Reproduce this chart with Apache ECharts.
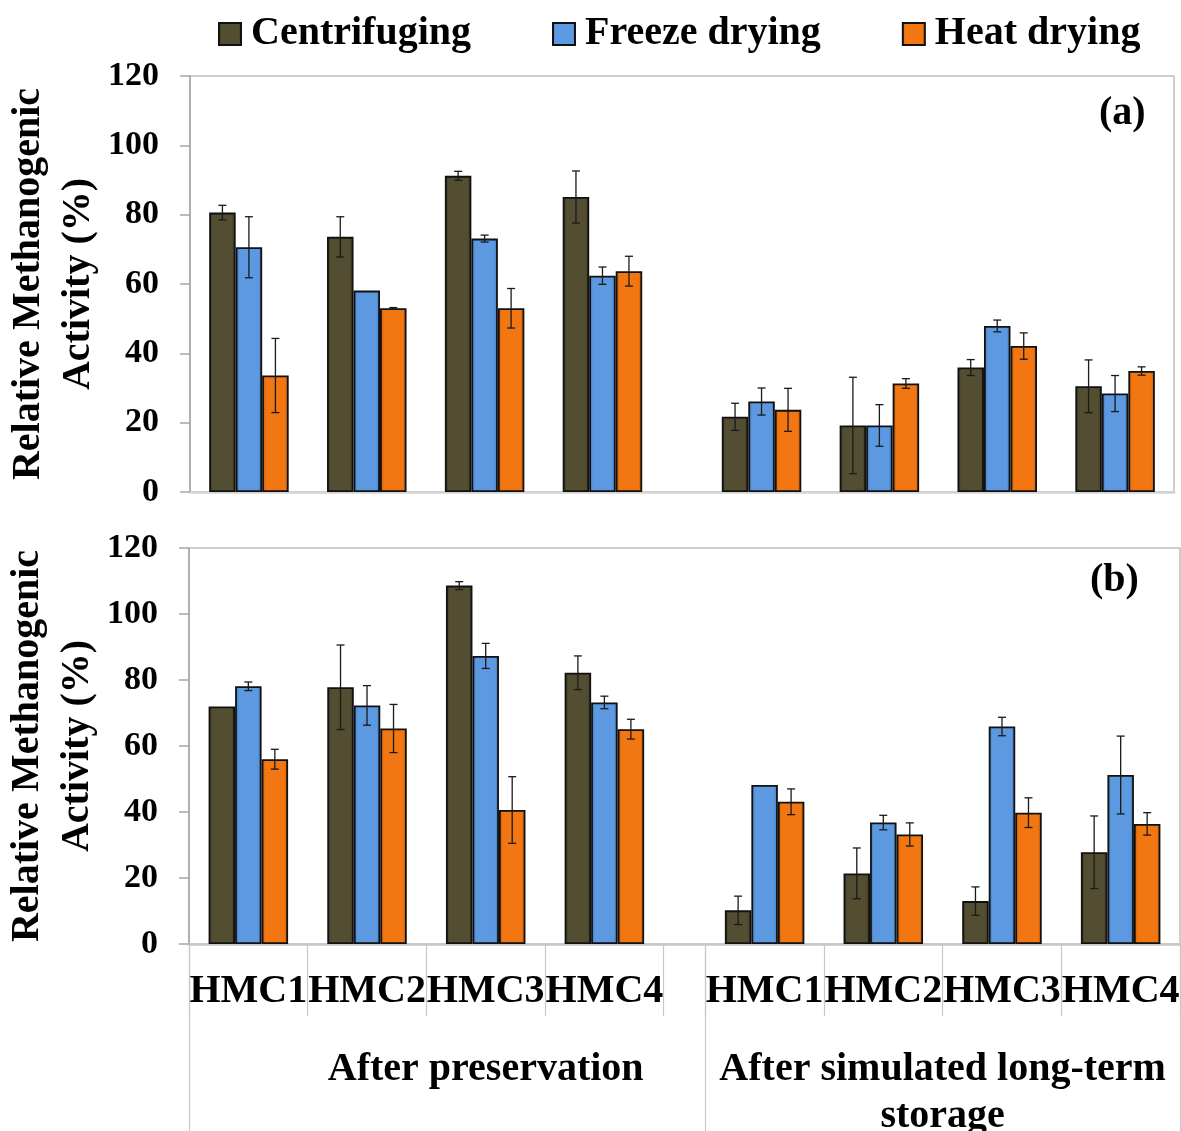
<!DOCTYPE html>
<html>
<head>
<meta charset="utf-8">
<script src="https://cdn.jsdelivr.net/npm/echarts@6/dist/echarts.min.js"></script>
<style>html,body{margin:0;padding:0;background:#fff}#c{width:1181px;height:1131px}</style>
</head>
<body>
<div id="c"></div>
<script>
// ---- data ----
const groups = ['HMC1', 'HMC2', 'HMC3', 'HMC4', 'HMC1', 'HMC2', 'HMC3', 'HMC4'];
const stages = ['After preservation', 'After simulated long-term\nstorage'];
const seriesNames = ['Centrifuging', 'Freeze drying', 'Heat drying'];
const yTicks = [0, 20, 40, 60, 80, 100, 120];

const aCent      = [80.6, 73.6, 91.2, 85.1, 21.7, 19.2, 35.9, 30.5];
const aCentErr   = [2.1, 5.8, 1.3, 7.5, 3.9, 13.9, 2.3, 7.6];
const aFreeze    = [70.6, 58.1, 73.1, 62.4, 26.1, 19.2, 47.9, 28.4];
const aFreezeErr = [8.8, 0, 1.0, 2.5, 3.9, 6.0, 1.7, 5.2];
const aHeat      = [33.6, 53.0, 53.0, 63.7, 23.7, 31.3, 42.1, 34.9];
const aHeatErr   = [10.7, 0.2, 5.7, 4.3, 6.2, 1.4, 3.8, 1.2];

const bCent      = [72.0, 77.8, 108.6, 82.2, 10.2, 21.4, 13.0, 27.8];
const bCentErr   = [0, 12.8, 1.2, 5.1, 4.3, 7.7, 4.3, 11.0];
const bFreeze    = [78.1, 72.3, 87.3, 73.2, 48.2, 36.8, 65.9, 51.2];
const bFreezeErr = [1.3, 6.0, 3.8, 1.9, 0, 2.2, 2.8, 11.8];
const bHeat      = [56.0, 65.3, 40.6, 65.1, 43.1, 33.2, 39.8, 36.4];
const bHeatErr   = [3.0, 7.3, 10.1, 3.0, 3.9, 3.5, 4.5, 3.4];

// ---- layout / style ----
const GAP = 0.35;                 // width of the empty slot between the two stages
const XMAX = groups.length + GAP;
const pos = i => i + 0.5 + (i >= 4 ? GAP : 0);
const BAR_W = 26.5;
const FONT = "'Liberation Serif', 'Times New Roman', serif";
const colors = [
  {base: '#534d32', dark: '#38341f'},
  {base: '#5c99e0', dark: '#3b6fb0'},
  {base: '#f27611', dark: '#b85505'}
];
const grad = c => ({
  type: 'linear', x: 0, y: 0, x2: 1, y2: 0,
  colorStops: [
    {offset: 0, color: c.dark}, {offset: 0.14, color: c.base},
    {offset: 0.86, color: c.base}, {offset: 1, color: c.dark}
  ]
});

const panels = [
  {vals: [aCent, aFreeze, aHeat], errs: [aCentErr, aFreezeErr, aHeatErr]},
  {vals: [bCent, bFreeze, bHeat], errs: [bCentErr, bFreezeErr, bHeatErr]}
];

const series = [];
panels.forEach((p, g) => {
  p.vals.forEach((arr, s) => {
    series.push({
      type: 'bar', name: seriesNames[s], xAxisIndex: g, yAxisIndex: g,
      barWidth: BAR_W, barGap: '0%',
      itemStyle: {color: grad(colors[s]), borderColor: '#111', borderWidth: 1.8},
      data: arr.map((v, i) => [pos(i), v])
    });
  });
  const errData = [];
  p.vals.forEach((arr, s) => arr.forEach((v, i) => errData.push([pos(i), v, p.errs[s][i], s])));
  series.push({
    type: 'custom', name: 'err' + g, xAxisIndex: g, yAxisIndex: g, z: 10,
    silent: true,
    data: errData,
    renderItem: (params, api) => {
      const x = api.value(0), y = api.value(1), e = api.value(2), s = api.value(3);
      if (!e) return null;
      const off = (s - 1) * BAR_W;
      const t = api.coord([x, y + e]);
      const b = api.coord([x, y - e]);
      const cx = t[0] + off;
      const st = {stroke: '#1a1a1a', lineWidth: 1.3};
      return {type: 'group', children: [
        {type: 'line', shape: {x1: cx, y1: t[1], x2: cx, y2: b[1]}, style: st},
        {type: 'line', shape: {x1: cx - 4, y1: t[1], x2: cx + 4, y2: t[1]}, style: st},
        {type: 'line', shape: {x1: cx - 4, y1: b[1], x2: cx + 4, y2: b[1]}, style: st}
      ]};
    }
  });
});

const yAxisCommon = (gi) => ({
  type: 'value', gridIndex: gi, min: yTicks[0], max: yTicks[yTicks.length - 1],
  interval: yTicks[1] - yTicks[0],
  axisLine: {show: true, lineStyle: {color: '#a6a6a6', width: 1.5}},
  axisTick: {show: true, inside: false, length: 10, lineStyle: {color: '#a6a6a6', width: 1.5}},
  axisLabel: {color: '#000', fontFamily: FONT, fontWeight: 'bold', fontSize: 34, margin: 31},
  splitLine: {show: false},
  name: 'Relative Methanogenic\nActivity (%)',
  nameLocation: 'middle', nameRotate: 90, nameGap: 86, nameMoveOverlap: false,
  nameTextStyle: {color: '#000', fontFamily: FONT, fontWeight: 'bold', fontSize: 40, lineHeight: 50}
});

const labelCommon = {
  color: '#000', fontFamily: FONT, fontWeight: 'bold', fontSize: 40,
  hideOverlap: false, showMinLabel: true, showMaxLabel: true
};

const option = {
  animation: false,
  backgroundColor: '#fff',
  title: [
    {text: '(a)', left: 1099, top: 94, padding: 0, textStyle: {fontFamily: FONT, fontWeight: 'bold', fontSize: 40, color: '#000'}},
    {text: '(b)', left: 1090, top: 561, padding: 0, textStyle: {fontFamily: FONT, fontWeight: 'bold', fontSize: 40, color: '#000'}}
  ],
  legend: {
    data: seriesNames, left: 218, top: 14, padding: 0, itemWidth: 22, itemHeight: 22, itemGap: 81,
    icon: 'rect',
    textStyle: {fontFamily: FONT, fontWeight: 'bold', fontSize: 40, color: '#000', padding: [0, 0, 0, 5]}
  },
  grid: [
    {left: 190, top: 76, width: 984, height: 416, show: true, borderColor: '#bfbfbf', borderWidth: 1.5,
     containLabel: false, outerBoundsMode: 'none'},
    {left: 189, top: 548, width: 991, height: 396, show: true, borderColor: '#bfbfbf', borderWidth: 1.5,
     containLabel: false, outerBoundsMode: 'none'}
  ],
  xAxis: [
    {type: 'value', gridIndex: 0, position: 'bottom', min: 0, max: XMAX,
     axisLine: {show: true, onZero: false, lineStyle: {color: '#d4d4d4', width: 2.5}},
     axisTick: {show: false}, axisLabel: {show: false}, splitLine: {show: false}},
    {type: 'value', gridIndex: 1, position: 'bottom', offset: 0, min: 0, max: XMAX,
     axisLine: {show: true, onZero: false, lineStyle: {color: '#c8c8c8', width: 2.5}},
     axisTick: {show: true, length: 72, lineStyle: {color: '#c8c8c8', width: 1.2},
                customValues: [0, 1, 2, 3, 4, 4 + GAP, 5 + GAP, 6 + GAP, 7 + GAP, 8 + GAP]},
     axisLabel: Object.assign({show: true, customValues: groups.map((g, i) => pos(i)), margin: 28,
                 formatter: v => { const i = groups.findIndex((g, k) => Math.abs(pos(k) - v) < 1e-6); return i >= 0 ? groups[i] : ''; }},
                 labelCommon),
     splitLine: {show: false}},
    {type: 'value', gridIndex: 1, position: 'bottom', offset: 0, min: 0, max: XMAX,
     axisLine: {show: false, onZero: false},
     axisTick: {show: true, length: 190, lineStyle: {color: '#c8c8c8', width: 1.2},
                customValues: [0, 4 + GAP, 8 + GAP]},
     axisLabel: Object.assign({show: true, customValues: [2.5, 4 + GAP + 2], margin: 102, lineHeight: 47,
                 formatter: v => v < 4 ? stages[0] : stages[1]}, labelCommon),
     splitLine: {show: false}}
  ],
  yAxis: [yAxisCommon(0), yAxisCommon(1)],
  series: series
};
echarts.init(document.getElementById('c')).setOption(option);
</script>
</body>
</html>
